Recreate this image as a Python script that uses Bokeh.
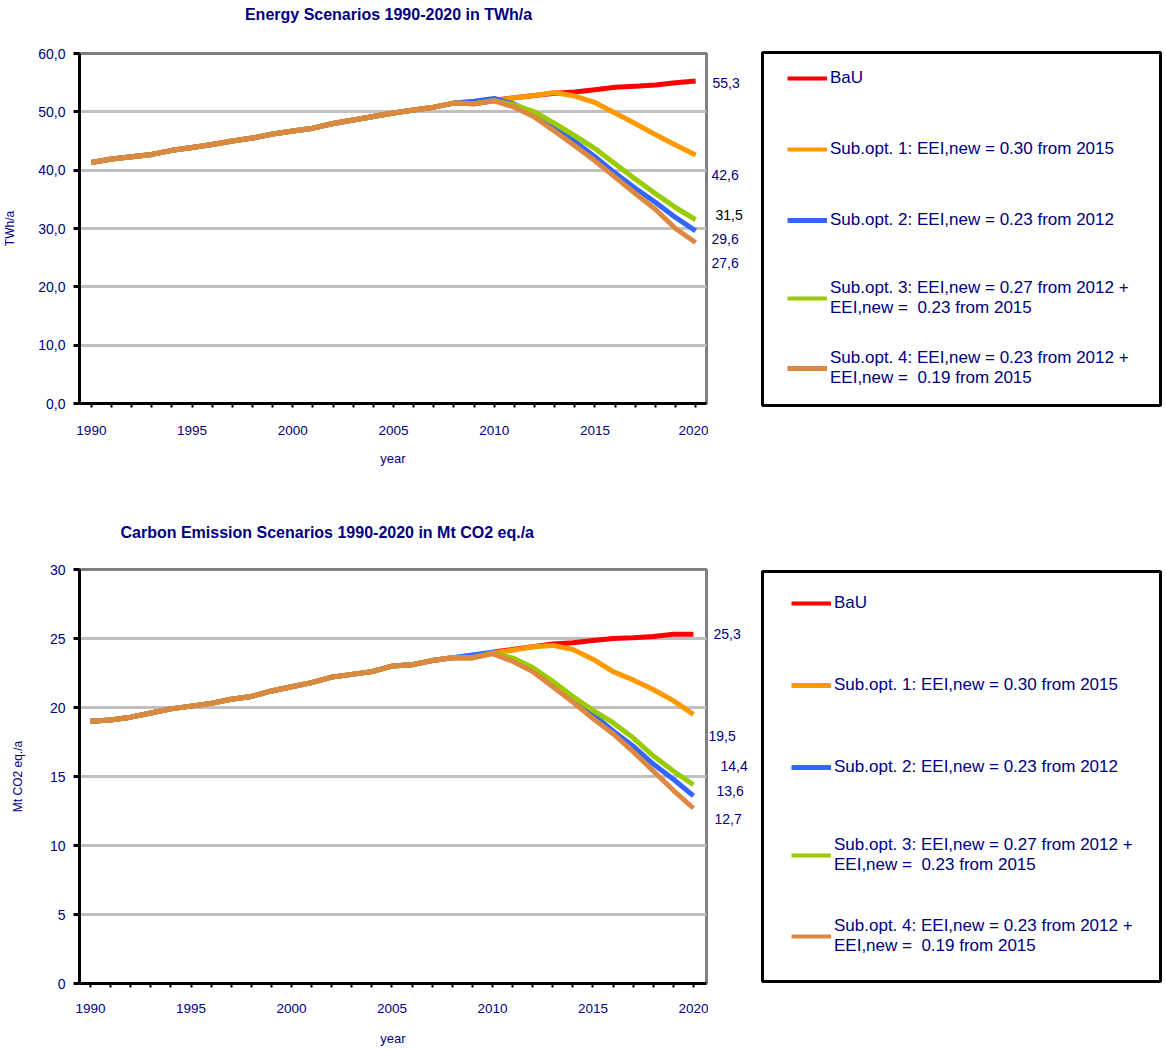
from bokeh.plotting import figure
from bokeh.models import FixedTicker, Legend, LegendItem, Range1d, Title, ColumnDataSource
from bokeh.core.properties import value
from bokeh.layouts import row, column
from bokeh.embed import file_html
from bokeh.resources import INLINE

# ---------------- data ----------------
years = list(range(1990, 2021))

series_names = [
    "BaU",
    "Sub.opt. 1: EEI,new = 0.30 from 2015",
    "Sub.opt. 2: EEI,new = 0.23 from 2012",
    "Sub.opt. 3: EEI,new = 0.27 from 2012 +\nEEI,new =  0.23 from 2015",
    "Sub.opt. 4: EEI,new = 0.23 from 2012 +\nEEI,new =  0.19 from 2015",
]

# Energy scenarios, TWh/a
energy_bau = [41.3, 41.9, 42.3, 42.7, 43.4, 43.9, 44.4, 45.0, 45.5, 46.2, 46.7, 47.2, 48.0, 48.6, 49.2, 49.8,
              50.3, 50.8, 51.5, 51.4, 52.0, 52.4, 52.8, 53.2, 53.4, 53.8, 54.2, 54.4, 54.6, 55.0, 55.3]
energy_sub1 = [41.3, 41.9, 42.3, 42.7, 43.4, 43.9, 44.4, 45.0, 45.5, 46.2, 46.7, 47.2, 48.0, 48.6, 49.2, 49.8,
               50.3, 50.8, 51.5, 51.4, 51.9, 52.4, 52.8, 53.3, 52.7, 51.6, 49.8, 48.0, 46.1, 44.3, 42.6]
energy_sub2 = [41.3, 41.9, 42.3, 42.7, 43.4, 43.9, 44.4, 45.0, 45.5, 46.2, 46.7, 47.2, 48.0, 48.6, 49.2, 49.8,
               50.3, 50.8, 51.5, 51.8, 52.3, 51.3, 49.6, 47.4, 44.9, 42.3, 39.5, 36.9, 34.5, 31.9, 29.6]
energy_sub3 = [41.3, 41.9, 42.3, 42.7, 43.4, 43.9, 44.4, 45.0, 45.5, 46.2, 46.7, 47.2, 48.0, 48.6, 49.2, 49.8,
               50.3, 50.8, 51.5, 51.4, 51.9, 51.2, 50.0, 48.0, 45.9, 43.7, 41.1, 38.5, 36.0, 33.6, 31.5]
energy_sub4 = [41.3, 41.9, 42.3, 42.7, 43.4, 43.9, 44.4, 45.0, 45.5, 46.2, 46.7, 47.2, 48.0, 48.6, 49.2, 49.8,
               50.3, 50.8, 51.5, 51.4, 51.9, 50.8, 49.1, 46.7, 44.2, 41.6, 38.8, 36.0, 33.3, 30.0, 27.6]

# Carbon emission scenarios, Mt CO2 eq./a
carbon_bau = [19.0, 19.1, 19.3, 19.6, 19.9, 20.1, 20.3, 20.6, 20.8, 21.2, 21.5, 21.8, 22.2, 22.4, 22.6, 23.0,
              23.1, 23.4, 23.6, 23.6, 24.0, 24.2, 24.4, 24.6, 24.7, 24.85, 25.0, 25.05, 25.15, 25.3, 25.3]
carbon_sub1 = [19.0, 19.1, 19.3, 19.6, 19.9, 20.1, 20.3, 20.6, 20.8, 21.2, 21.5, 21.8, 22.2, 22.4, 22.6, 23.0,
               23.1, 23.4, 23.6, 23.6, 23.95, 24.15, 24.4, 24.5, 24.2, 23.5, 22.6, 22.0, 21.3, 20.5, 19.5]
carbon_sub2 = [19.0, 19.1, 19.3, 19.6, 19.9, 20.1, 20.3, 20.6, 20.8, 21.2, 21.5, 21.8, 22.2, 22.4, 22.6, 23.0,
               23.1, 23.4, 23.6, 23.8, 24.0, 23.5, 22.7, 21.7, 20.6, 19.5, 18.3, 17.2, 15.9, 14.8, 13.6]
carbon_sub3 = [19.0, 19.1, 19.3, 19.6, 19.9, 20.1, 20.3, 20.6, 20.8, 21.2, 21.5, 21.8, 22.2, 22.4, 22.6, 23.0,
               23.1, 23.4, 23.6, 23.6, 23.95, 23.6, 22.9, 21.9, 20.8, 19.8, 18.9, 17.8, 16.5, 15.4, 14.4]
carbon_sub4 = [19.0, 19.1, 19.3, 19.6, 19.9, 20.1, 20.3, 20.6, 20.8, 21.2, 21.5, 21.8, 22.2, 22.4, 22.6, 23.0,
               23.1, 23.4, 23.6, 23.6, 23.9, 23.35, 22.6, 21.5, 20.4, 19.2, 18.1, 16.8, 15.4, 14.0, 12.7]

energy_ticks = [0, 10, 20, 30, 40, 50, 60]
carbon_ticks = [0, 5, 10, 15, 20, 25, 30]
year_label_ticks = [1990, 1995, 2000, 2005, 2010, 2015, 2020]

# ---------------- styles ----------------
colors = ["#ff0000", "#ff9900", "#3366ff", "#99cc00", "#dd8840"]
NAVY = "#000080"
FONT = "Liberation Sans"


def style_chart(p, title, title_size, title_align, title_offset, spacer_standoff, yticks, ylabels, ylabel,
                xtick_standoff, xlab_standoff, ylab_standoff):
    p.title.visible = False
    # spacer between the frame and the title (stacked in the "above" panel)
    p.add_layout(Title(text=" ", text_font_size="1px", standoff=spacer_standoff), "above")
    p.add_layout(Title(text=title, align=title_align, offset=title_offset, text_font=FONT,
                       text_font_size=title_size, text_font_style="bold", text_color=NAVY, standoff=4),
                 "above")

    p.outline_line_color = "#808080"
    p.outline_line_width = 3
    p.xgrid.grid_line_color = None
    p.ygrid.ticker = FixedTicker(ticks=yticks)
    p.ygrid.grid_line_color = "#c0c0c0"
    p.ygrid.grid_line_width = 3

    xa = p.xaxis[0]
    xa.ticker = FixedTicker(ticks=years)
    xa.major_label_overrides = {y: (str(y) if y in year_label_ticks else "") for y in years}
    xa.axis_line_color = "black"
    xa.axis_line_width = 3
    xa.major_tick_line_color = "black"
    xa.major_tick_line_width = 2
    xa.major_tick_out = 4
    xa.major_tick_in = 0
    xa.minor_tick_line_color = None
    xa.major_label_text_font = FONT
    xa.major_label_text_font_size = "13.5px"
    xa.major_label_text_color = NAVY
    xa.major_label_standoff = xtick_standoff
    xa.axis_label = "year"
    xa.axis_label_text_font = FONT
    xa.axis_label_text_font_size = "13px"
    xa.axis_label_text_font_style = "normal"
    xa.axis_label_text_color = NAVY
    xa.axis_label_standoff = xlab_standoff

    ya = p.yaxis[0]
    ya.ticker = FixedTicker(ticks=yticks)
    ya.major_label_overrides = ylabels
    ya.axis_line_color = "black"
    ya.axis_line_width = 3
    ya.major_tick_line_color = "black"
    ya.major_tick_line_width = 3
    ya.major_tick_out = 6
    ya.major_tick_in = 0
    ya.minor_tick_line_color = None
    ya.major_label_text_font = FONT
    ya.major_label_text_font_size = "14px"
    ya.major_label_text_color = NAVY
    ya.major_label_standoff = 8
    ya.axis_label = ylabel
    ya.axis_label_text_font = FONT
    ya.axis_label_text_font_size = "12px"
    ya.axis_label_text_font_style = "normal"
    ya.axis_label_text_color = NAVY
    ya.axis_label_standoff = ylab_standoff


def end_label_panel(height, top, bottom, y_range, values, x_pos, y_offs, label_colors):
    ef = figure(width=52, height=height, x_range=Range1d(0, 52), y_range=y_range,
                x_axis_location=None, y_axis_location=None, output_backend="svg", toolbar_location=None,
                min_border_left=0, min_border_right=0, min_border_top=top, min_border_bottom=bottom)
    ef.grid.grid_line_color = None
    ef.outline_line_color = None
    src = ColumnDataSource(dict(x=x_pos, y=values, text=[f"{v:.1f}".replace(".", ",") for v in values],
                                yo=y_offs, c=label_colors))
    ef.text(x="x", y="y", text="text", y_offset="yo", text_color="c", source=src,
            text_font=value(FONT), text_font_size="14px", text_align="left", text_baseline="middle")
    return ef


def legend_panel(height, top, frame_h, series, item_centers, line_widths, glyph_x):
    lf = figure(width=406, height=height, x_range=Range1d(0, 1), y_range=Range1d(0, 1),
                x_axis_location=None, y_axis_location=None, output_backend="svg", toolbar_location=None,
                min_border_left=2, min_border_right=6, min_border_top=top,
                min_border_bottom=height - top - frame_h)
    lf.grid.grid_line_color = None
    lf.outline_line_color = "black"
    lf.outline_line_width = 3
    for name, vals, c, lw, cy in zip(series_names, series, colors, line_widths, item_centers):
        # same series (falls outside this panel's ranges), used only for the legend glyph
        r = lf.line(years, vals, line_color=c, line_width=lw)
        two = "\n" in name
        h = 40 if two else 20
        shift = 4 if two else 0
        vy = frame_h - (cy - 10 + h) + shift
        leg = Legend(items=[LegendItem(label=name, renderers=[r])], location=(glyph_x, vy),
                     border_line_alpha=0, background_fill_alpha=0, padding=0, margin=0,
                     glyph_width=40, glyph_height=20, label_height=20, label_standoff=3,
                     label_text_font=FONT, label_text_font_size="17px", label_text_color=NAVY,
                     label_text_line_height=1.1)
        lf.add_layout(leg)
    return lf


# ---------------- top chart ----------------
energy = [energy_bau, energy_sub1, energy_sub2, energy_sub3, energy_sub4]
p1 = figure(width=708, height=500, x_range=Range1d(1989.41, 2020.54), y_range=Range1d(0, 60),
            output_backend="svg", toolbar_location=None,
            min_border_left=75, min_border_right=2, min_border_top=53, min_border_bottom=97)
style_chart(p1, "Energy Scenarios  1990-2020  in TWh/a", "16px", "center", 0, 26,
            energy_ticks, {t: f"{t:.1f}".replace(".", ",") for t in energy_ticks}, "TWh/a", 18, 13, 18)
for vals, c in zip(energy, colors):
    p1.line(years, vals, line_color=c, line_width=5, line_join="round")
# order: BaU, Sub1, Sub2, Sub3, Sub4
e1 = end_label_panel(500, 53, 97, p1.y_range, [s[-1] for s in energy],
                     [4, 3, 3, 7, 3], [2, 20, 8, -5, 20], [NAVY, NAVY, NAVY, "black", NAVY])

# ---------------- bottom chart ----------------
carbon = [carbon_bau, carbon_sub1, carbon_sub2, carbon_sub3, carbon_sub4]
p2 = figure(width=708, height=550, x_range=Range1d(1989.45, 2020.65), y_range=Range1d(0, 30),
            output_backend="svg", toolbar_location=None,
            min_border_left=79, min_border_right=2, min_border_top=69, min_border_bottom=67)
style_chart(p2, "Carbon Emission Scenarios  1990-2020  in Mt CO2 eq./a", "16px", "left", 41, 24,
            carbon_ticks, {t: str(t) for t in carbon_ticks}, "Mt CO2 eq./a", 16, 15, 22)
for vals, c in zip(carbon, colors):
    p2.line(years, vals, line_color=c, line_width=5, line_join="round")
e2 = end_label_panel(550, 69, 67, p2.y_range, [s[-1] for s in carbon],
                     [5, 0, 8, 12, 6], [0, 22, -5, -19, 11], [NAVY] * 5)

# ---------------- legends ----------------
l1 = legend_panel(500, 52, 353, energy, [26, 97, 168, 240, 310], [4, 4, 5, 4, 5], 25)
l2 = legend_panel(550, 71, 410, carbon, [32, 114, 196, 278, 359], [4, 5, 5, 4, 4], 29)

layout = row(column(p1, p2), column(e1, e2), column(l1, l2))
open("out.html", "w").write(file_html(layout, INLINE))
